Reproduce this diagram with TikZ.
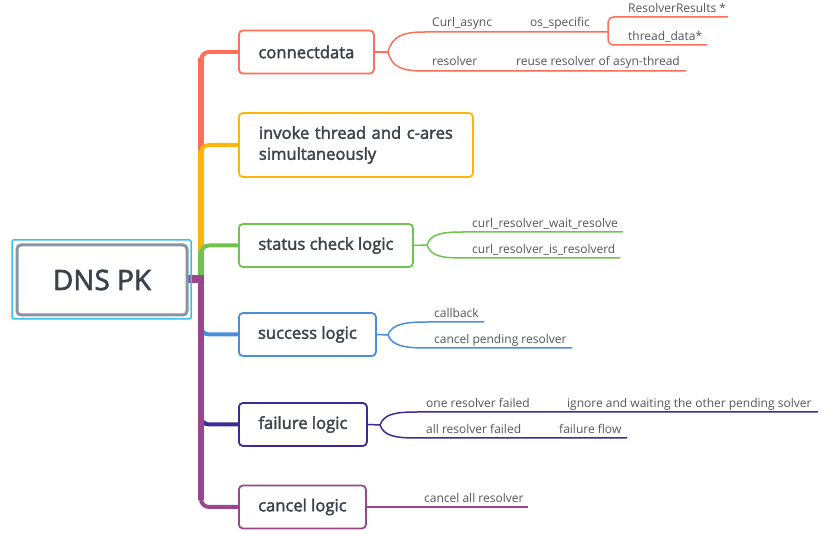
\documentclass[tikz,border=0pt]{standalone}
\usepackage{fontspec}
\setmainfont{Open Sans}
\newfontfamily\topicfont{Open Sans}[FakeBold=2.2]
\usetikzlibrary{positioning}
\definecolor{topicred}{RGB}{255,110,88}
\definecolor{topicorange}{RGB}{255,180,10}
\definecolor{topicgreen}{RGB}{110,196,78}
\definecolor{topicblue}{RGB}{74,142,218}
\definecolor{topicindigo}{RGB}{58,44,150}
\definecolor{topicpurple}{RGB}{155,70,140}
\definecolor{rootcyan}{RGB}{60,190,240}
\definecolor{rootgray}{RGB}{140,148,160}
\definecolor{textgray}{RGB}{60,66,76}
\definecolor{subgray}{RGB}{85,85,90}

\begin{document}
\begin{tikzpicture}[x=1pt, y=-1pt,
    root/.style={rectangle, draw=rootgray, line width=3pt, rounded corners=4pt, minimum width=170pt, minimum height=70pt, font=\topicfont\fontsize{28}{32}\selectfont, text=textgray, fill=white},
    topic/.style={rectangle, draw, line width=1.8pt, rounded corners=4pt, minimum height=43pt, anchor=west, font=\topicfont\fontsize{16.6}{21}\selectfont, text=textgray, fill=white},
    sub/.style={anchor=base west, inner sep=0pt, font=\fontsize{12}{14}\selectfont, text=subgray},
    trunk/.style={line width=6.5pt},
    branch/.style={line width=4pt, rounded corners=8pt},
    leaf/.style={line width=1.5pt}
]
    \useasboundingbox (0,0) rectangle (828,534);

    % Topics
    \node[topic, draw=topicred, minimum width=135pt] (connect) at (238,52) {connectdata};
    \node[topic, draw=topicorange, minimum width=234pt, minimum height=64pt, align=left, text width=194pt] (invoke) at (238,145) {invoke thread and c-ares\\simultaneously};
    \node[topic, draw=topicgreen, minimum width=174pt] (status) at (238,245.5) {status check logic};
    \node[topic, draw=topicblue, minimum width=137pt] (success) at (238,334.5) {success logic};
    \node[topic, draw=topicindigo, minimum width=128pt] (failure) at (238,424.5) {failure logic};
    \node[topic, draw=topicpurple, minimum width=127pt] (cancel) at (238,507) {cancel logic};

    % Main branches, upper half
    \draw[trunk, topicred] (201,280) -- (201,58);
    \draw[branch, topicred] (201,100) |- (connect.west);
    \draw[trunk, topicorange] (201,280) -- (201,151);
    \draw[branch, topicorange] (201,190) |- (invoke.west);
    \draw[trunk, topicgreen] (201,282) -- (201,251);
    \draw[branch, topicgreen] (201,270) |- (status.west);

    % Main branches, lower half
    \draw[trunk, topicblue] (201,278) -- (201,328);
    \draw[branch, topicblue] (201,300) |- (success.west);
    \draw[trunk, topicindigo] (201,278) -- (201,418);
    \draw[branch, topicindigo] (201,390) |- (failure.west);
    \draw[trunk, topicpurple] (201,275) -- (201,500);
    \draw[branch, topicpurple] (201,470) |- (cancel.west);

    % Root
    \draw[line width=8pt, topicpurple] (185,279) -- (204,279);
    \node[draw=rootcyan, line width=1.5pt, rounded corners=1.5pt, minimum width=179pt, minimum height=79pt] (rootframe) at (101.5,279.5) {};
    \node[root] (root) at (102,280) {DNS PK};

    % connectdata details
    \draw[leaf, topicred] (connect.east) -- (388,52) coordinate (cd-fork);
    \draw[leaf, topicred] (cd-fork) .. controls +(4,-16) and +(-22,0) .. (425,32) -- (608,32) coordinate (cd-os);
    \draw[leaf, topicred] (cd-fork) .. controls +(4,16) and +(-22,0) .. (425,71) -- (686,71) coordinate (cd-reuse-end);
    \draw[leaf, topicred, rounded corners=6pt] (cd-os) |- (728,17) coordinate (cd-res-end);
    \draw[leaf, topicred, rounded corners=6pt] (cd-os) |- (707,45) coordinate (cd-td-end);
    \node[sub] (cd-async) at (432,27) {Curl\_async};
    \node[sub] (cd-ossp) at (530,27) {os\_specific};
    \node[sub] (cd-res) at (628,12.5) {ResolverResults *};
    \node[sub] (cd-td) at (628,40.5) {thread\_data*};
    \node[sub] (cd-resolver) at (432,66) {resolver};
    \node[sub] (cd-reuse) at (516,66) {reuse resolver of asyn-thread};

    % status check details
    \draw[leaf, topicgreen] (status.east) -- (427,245) coordinate (sc-fork);
    \draw[leaf, topicgreen] (sc-fork) .. controls +(4,-11) and +(-22,0) .. (463,232) -- (623,232) coordinate (sc-wait-end);
    \draw[leaf, topicgreen] (sc-fork) .. controls +(4,11) and +(-22,0) .. (463,258) -- (620,258) coordinate (sc-is-end);
    \node[sub] (sc-wait) at (472,227.5) {curl\_resolver\_wait\_resolve};
    \node[sub] (sc-is) at (472,253.5) {curl\_resolver\_is\_resolverd};

    % success details
    \draw[leaf, topicblue] (success.east) -- (388,335) coordinate (su-fork);
    \draw[leaf, topicblue] (su-fork) .. controls +(4,-11) and +(-22,0) .. (427,322) -- (484,322) coordinate (su-cb-end);
    \draw[leaf, topicblue] (su-fork) .. controls +(4,11) and +(-22,0) .. (427,348) -- (572,348) coordinate (su-cp-end);
    \node[sub] (su-cb) at (434,317.5) {callback};
    \node[sub] (su-cp) at (434,343.5) {cancel pending resolver};

    % failure details
    \draw[leaf, topicindigo] (failure.east) -- (380,425) coordinate (fa-fork);
    \draw[leaf, topicindigo] (fa-fork) .. controls +(4,-11) and +(-22,0) .. (417,412) -- (818,412) coordinate (fa-one-end);
    \draw[leaf, topicindigo] (fa-fork) .. controls +(4,11) and +(-22,0) .. (417,438) -- (627,438) coordinate (fa-all-end);
    \node[sub] (fa-one) at (426,407.5) {one resolver failed};
    \node[sub] (fa-ignore) at (567,407.5) {ignore and waiting the other pending solver};
    \node[sub] (fa-all) at (426,433.5) {all resolver failed};
    \node[sub] (fa-flow) at (559,433.5) {failure flow};

    % cancel details
    \draw[leaf, topicpurple] (cancel.east) -- (528,507) coordinate (ca-end);
    \node[sub] (ca-all) at (424,502.5) {cancel all resolver};
\end{tikzpicture}
\end{document}
